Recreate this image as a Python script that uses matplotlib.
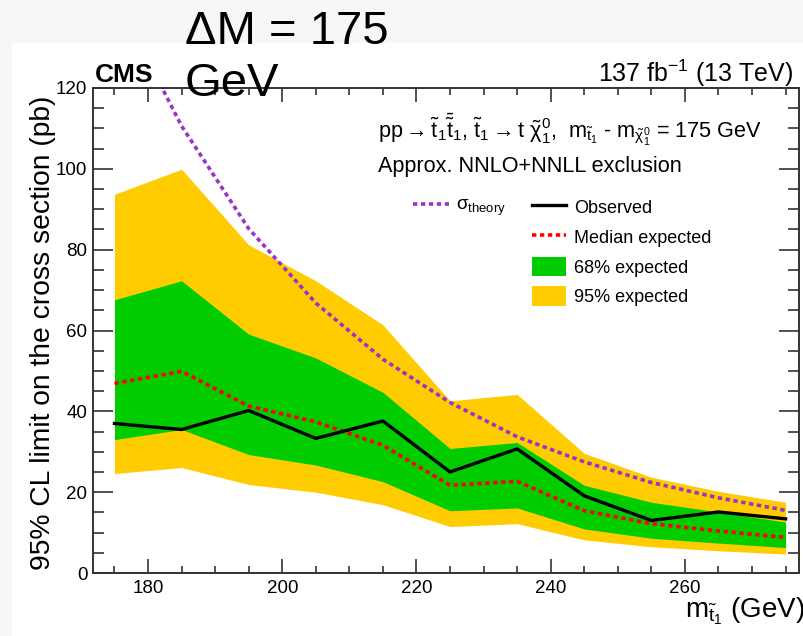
import matplotlib
matplotlib.use("Agg")
import matplotlib.pyplot as plt
from matplotlib.lines import Line2D
from matplotlib.patches import Patch, Rectangle
from matplotlib.ticker import MultipleLocator

plt.rcParams['font.family'] = ['Liberation Sans', 'DejaVu Sans']
plt.rcParams['mathtext.fontset'] = 'custom'
plt.rcParams['mathtext.rm'] = 'Liberation Sans'
plt.rcParams['mathtext.it'] = 'Liberation Sans'
plt.rcParams['mathtext.bf'] = 'Liberation Sans:bold'

# stop mass points (GeV)
mstop = [175, 185, 195, 205, 215, 225, 235, 245, 255, 265, 275]

# limits on the cross section (pb)
observed = [37.0, 35.5, 40.2, 33.3, 37.6, 25.0, 30.7, 19.1, 13.0, 15.1, 13.4]
expected = [46.9, 49.9, 41.3, 37.4, 31.6, 21.7, 22.7, 15.4, 12.2, 10.4, 8.8]
exp_68_up = [67.6, 72.3, 59.1, 53.2, 44.7, 30.8, 32.3, 21.7, 17.5, 15.1, 12.6]
exp_68_dn = [33.0, 35.5, 29.3, 26.7, 22.6, 15.4, 16.1, 10.9, 8.6, 7.4, 6.3]
exp_95_up = [93.7, 99.9, 81.2, 72.3, 61.4, 42.6, 44.2, 29.6, 23.7, 20.2, 17.5]
exp_95_dn = [24.6, 26.1, 21.9, 20.0, 16.9, 11.5, 12.2, 8.2, 6.5, 5.5, 4.7]
theory = [143.0, 110.6, 85.2, 66.8, 52.9, 42.2, 33.7, 27.5, 22.4, 18.6, 15.5]

W, H = 804, 636
fig = plt.figure(figsize=(W / 100, H / 100), dpi=100, facecolor='#f7f7f7')
fig.patches.append(Rectangle((12 / W, 0), 1, 1 - 43 / H, transform=fig.transFigure,
                             facecolor='white', edgecolor='none', zorder=-10))

ax = fig.add_axes([93 / W, 1 - 573 / H, (799 - 93) / W, (573 - 88) / H])
ax.set_facecolor('white')

ax.fill_between(mstop, exp_95_dn, exp_95_up, color='#ffcc00', lw=0, zorder=1)
ax.fill_between(mstop, exp_68_dn, exp_68_up, color='#00cc00', lw=0, zorder=2)
ax.plot(mstop, expected, color='red', lw=2.6, ls=(0, (1.2, 1.0)), zorder=3)
ax.plot(mstop, observed, color='black', lw=2.4, zorder=4)
ax.plot(mstop, theory, color='#9933cc', lw=2.6, ls=(0, (1.2, 1.0)), zorder=5)

ax.set_xlim(171.8, 277.0)
ax.set_ylim(0, 120)
ax.xaxis.set_major_locator(MultipleLocator(20))
ax.xaxis.set_minor_locator(MultipleLocator(5))
ax.yaxis.set_major_locator(MultipleLocator(20))
ax.yaxis.set_minor_locator(MultipleLocator(5))
ax.tick_params(axis='both', which='both', direction='in', top=True, right=True,
               width=1.2, colors='#333333', labelcolor='black')
ax.tick_params(axis='x', which='major', length=10, labelsize=13.5, pad=5)
ax.tick_params(axis='x', which='minor', length=5)
ax.tick_params(axis='y', which='major', length=14.5, labelsize=13.5, pad=4)
ax.tick_params(axis='y', which='minor', length=8)
for sp in ax.spines.values():
    sp.set_linewidth(1.4)
    sp.set_color('#333333')

ax.set_ylabel('95% CL limit on the cross section (pb)', fontsize=20.3)
ax.yaxis.set_label_coords(-0.052, 0.495)
ax.set_xlabel(r'$\mathrm{m}_{\tilde{\mathrm{t}}_1}$ (GeV)', fontsize=20, ha='right')
ax.xaxis.set_label_coords(1.008, -0.046)

fig.text(95 / W, 1 - 82 / H, 'CMS', fontsize=19, fontweight='bold', va='baseline')
fig.text(793 / W, 1 - 82 / H, r'137 fb$^{-1}$ (13 TeV)', fontsize=18, ha='right',
         va='baseline')

ax.text(378 / W, 1 - 138 / H,
        r'pp$\rightarrow\tilde{\mathrm{t}}_1\bar{\tilde{\mathrm{t}}}_1$, '
        r'$\tilde{\mathrm{t}}_1\rightarrow$t $\tilde{\chi}^0_1$,  '
        r'm$_{\tilde{\mathrm{t}}_1}$ - m$_{\tilde{\chi}^0_1}$ = 175 GeV',
        transform=fig.transFigure, fontsize=15.6, va='baseline')
ax.text(378 / W, 1 - 172 / H, 'Approx. NNLO+NNLL exclusion',
        transform=fig.transFigure, fontsize=15.6, va='baseline')

theory_leg = ax.legend(
    [Line2D([], [], color='#9933cc', lw=2.6, ls=(0, (1.2, 1.0)))],
    [r'$\sigma_{\mathrm{theory}}$'],
    loc='upper left', bbox_to_anchor=(413 / W, 1 - 197 / H),
    bbox_transform=fig.transFigure, frameon=False, fontsize=13.5,
    handlelength=1.9, handletextpad=0.4, borderpad=0, borderaxespad=0)
ax.add_artist(theory_leg)

ax.legend(
    [Line2D([], [], color='black', lw=2.4),
     Line2D([], [], color='red', lw=2.6, ls=(0, (1.2, 1.0))),
     Patch(facecolor='#00cc00', edgecolor='none'),
     Patch(facecolor='#ffcc00', edgecolor='none')],
    ['Observed', 'Median expected', '68% expected', '95% expected'],
    loc='upper left', bbox_to_anchor=(532 / W, 1 - 197 / H),
    bbox_transform=fig.transFigure, frameon=False, fontsize=13,
    handlelength=1.9, handleheight=1.3, handletextpad=0.45,
    labelspacing=0.55, borderpad=0, borderaxespad=0)

fig.text(185 / W, 1 - 10 / H, 'ΔM = 175\nGeV', fontsize=34, va='top',
         linespacing=1.25)

fig.savefig('out.png', dpi=100, facecolor=fig.get_facecolor())
